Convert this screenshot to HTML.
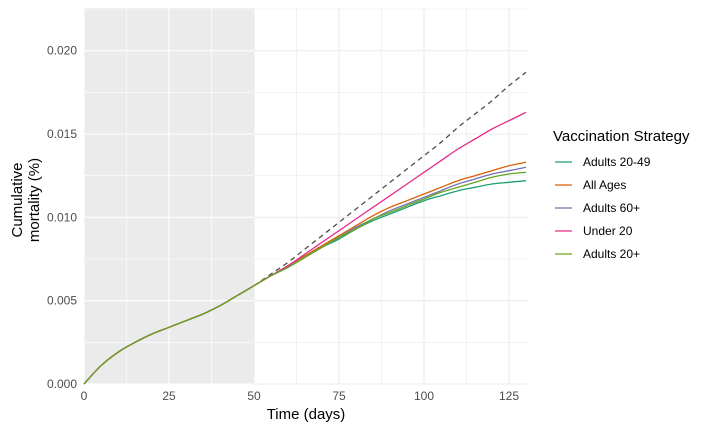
<!DOCTYPE html>
<html><head><meta charset="utf-8"><style>
body{margin:0;background:#fff;font-family:"Liberation Sans",sans-serif}
</style></head><body>
<svg id="chart" width="714" height="433" xmlns="http://www.w3.org/2000/svg" font-family="Liberation Sans, sans-serif">
<g id="grid"></g>
<g id="lines"></g>
<g id="axes"></g>
<text x="306" y="419" text-anchor="middle" font-size="15" fill="#000">Time (days)</text>
<text transform="translate(25,200) rotate(-90)" text-anchor="middle" font-size="15" fill="#000"><tspan x="0" dy="-3">Cumulative</tspan><tspan x="0" dy="17">mortality (%)</tspan></text>
<g id="legend">
<text x="553" y="141" font-size="15" fill="#000">Vaccination Strategy</text>
</g>
</svg>
<script>
const days=[0,5,10,15,20,25,30,35,40,45,50,55,60,65,70,75,80,85,90,95,100,105,110,115,120,125,130];
const common=[0,.0011,.0019,.0025,.0030,.0034,.0038,.0042,.0047,.0053,.0059];
const noVacc=[.0066,.0073,.0081,.0089,.0097,.0105,.0113,.0121,.0129,.0137,.0145,.0154,.0162,.0170,.0179,.0187];
const adults2049=[.0065,.0070,.0076,.0082,.0087,.0093,.0098,.0102,.0106,.0110,.0113,.0116,.0118,.0120,.0121,.0122];
const allAges=[.0065,.0071,.0077,.0083,.0089,.0095,.0101,.0106,.0110,.0114,.0118,.0122,.0125,.0128,.0131,.0133];
const adults60=[.0065,.0070,.0076,.0082,.0088,.0094,.0099,.0104,.0108,.0112,.0116,.0120,.0123,.0126,.0128,.0130];
const under20=[.0065,.0071,.0078,.0085,.0092,.0099,.0106,.0113,.0120,.0127,.0134,.0141,.0147,.0153,.0158,.0163];
const adults20=[.0065,.0070,.0076,.0082,.0088,.0093,.0099,.0103,.0107,.0111,.0115,.0118,.0121,.0124,.0126,.0127];
const xTicks=[0,25,50,75,100,125];
const yTicks=[0,0.005,0.010,0.015,0.020];
const yTickLabels=["0.000","0.005","0.010","0.015","0.020"];
const NS="http://www.w3.org/2000/svg";
const x0=84,x1=528,y0=384,yTop=8;
const xs=d=>x0+d*3.4;
const ys=v=>y0-v*16667;
const xs50=xs(50);
function mk(tag,attrs,parent){const e=document.createElementNS(NS,tag);for(const k in attrs)e.setAttribute(k,attrs[k]);parent.appendChild(e);return e;}
const grid=document.getElementById('grid');
const bg=mk('rect',{x:x0,y:yTop,width:xs50-x0,height:y0-yTop,fill:'#ebebeb'},grid);


function vline(d,w){const c=xs(d)<xs50?'#ffffff':'#ebebeb';const l=mk('line',{x1:xs(d),x2:xs(d),y1:yTop,y2:y0,stroke:c,'stroke-width':w},grid);}
function hline(v,w){const a=mk('line',{x1:x0,x2:xs50,y1:ys(v),y2:ys(v),stroke:'#ffffff','stroke-width':w},grid);
 const b=mk('line',{x1:xs50,x2:x1,y1:ys(v),y2:ys(v),stroke:'#ebebeb','stroke-width':w},grid);}
for(let d=12.5;d<131;d+=25)vline(d,0.6);
for(let v=0.0025;v<0.0226;v+=0.005)hline(v,0.6);
xTicks.forEach(d=>vline(d,1.1));
yTicks.forEach(v=>hline(v,1.1));
const axes=document.getElementById('axes');
xTicks.forEach(d=>{const t=mk('text',{x:xs(d),y:400,'text-anchor':'middle','font-size':12,fill:'#4d4d4d'},axes);t.textContent=d;});
yTicks.forEach((v,i)=>{const t=mk('text',{x:77,y:ys(v)+4,'text-anchor':'end','font-size':12,fill:'#4d4d4d'},axes);t.textContent=yTickLabels[i];});
const series=[
 {name:'Adults 20-49',vals:adults2049,color:'#1b9e77'},
 {name:'All Ages',vals:allAges,color:'#d95f02'},
 {name:'Adults 60+',vals:adults60,color:'#7570b3'},
 {name:'Under 20',vals:under20,color:'#e7298a'},
 {name:'Adults 20+',vals:adults20,color:'#66a61e'}];
const lines=document.getElementById('lines');
function pathFor(vals){
 const all=common.concat(vals);
 const P=all.map((v,i)=>[xs(days[i]),ys(v)]);
 let d='M'+P[0][0].toFixed(1)+','+P[0][1].toFixed(1);
 for(let i=0;i<P.length-1;i++){
  const p0=P[Math.max(0,i-1)],p1=P[i],p2=P[i+1],p3=P[Math.min(P.length-1,i+2)];
  const c1=[p1[0]+(p2[0]-p0[0])/6,p1[1]+(p2[1]-p0[1])/6];
  const c2=[p2[0]-(p3[0]-p1[0])/6,p2[1]-(p3[1]-p1[1])/6];
  d+=' C'+c1.map(n=>n.toFixed(1)).join(',')+' '+c2.map(n=>n.toFixed(1)).join(',')+' '+p2.map(n=>n.toFixed(1)).join(',');
 }
 return d;}
const dp=mk('path',{d:pathFor(noVacc),fill:'none',stroke:'#4d4d4d','stroke-width':1.3,'stroke-dasharray':'5,4'},lines);


series.forEach(s=>{const p=mk('path',{d:pathFor(s.vals),fill:'none',stroke:s.color,'stroke-width':1.3,'stroke-linejoin':'round'},lines);});
const legend=document.getElementById('legend');
series.forEach((s,i)=>{const y=162+i*23;
 const l=mk('line',{x1:555,x2:572,y1:y,y2:y,stroke:s.color,'stroke-width':1.3},legend);
 const t=mk('text',{x:583,y:y+4,'font-size':12,fill:'#000'},legend);t.textContent=s.name;});
</script>
</body></html>
